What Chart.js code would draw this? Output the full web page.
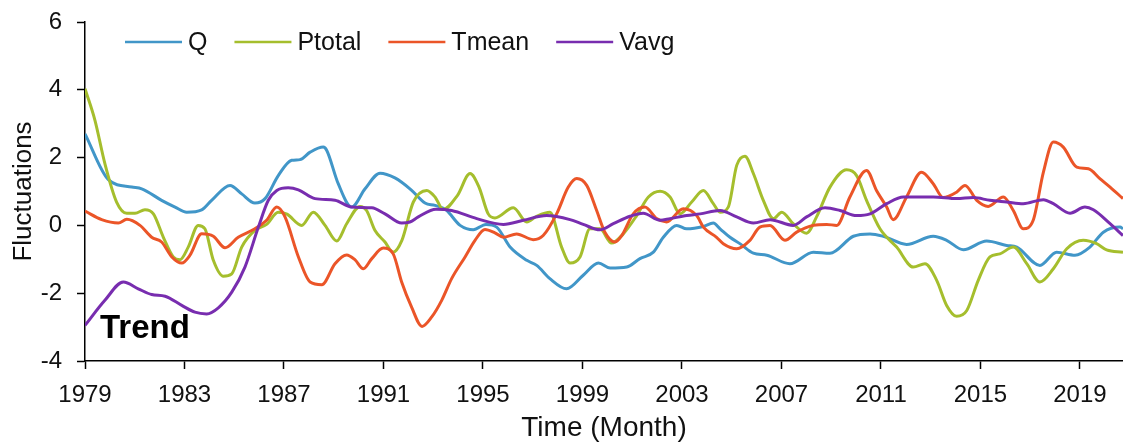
<!DOCTYPE html>
<html>
<head>
<meta charset="utf-8">
<script src="https://cdn.jsdelivr.net/npm/chart.js@4.4.1/dist/chart.umd.min.js"></script>
<style>
html,body{margin:0;padding:0;background:#fff;overflow:hidden}
#wrap{width:1123px;height:447px}
</style>
</head>
<body>
<div id="wrap"><canvas id="c" width="1123" height="447"></canvas></div>
<script>
const yearTicks = [1979,1983,1987,1991,1995,1999,2003,2007,2011,2015,2019];
const seriesNames = ['Q','Ptotal','Tmean','Vavg'];
const seriesColors = ['#4196C8','#A5BE2D','#EB5528','#782DAF'];

const qYears = [1979.00,1979.94,1980.88,1981.28,1982.08,1982.62,1983.09,1983.69,1984.09,1984.83,1985.30,1985.83,1986.24,1986.77,1987.31,1987.64,1988.05,1988.58,1988.72,1989.18,1989.72,1990.26,1990.86,1991.46,1992.11,1992.67,1993.07,1993.51,1994.08,1994.61,1995.12,1995.55,1996.09,1996.76,1997.16,1997.69,1998.36,1999.03,1999.64,2000.11,2000.78,2001.31,2001.85,2002.25,2002.79,2003.19,2003.86,2004.26,2004.53,2004.93,2005.37,2005.87,2006.41,2007.34,2008.28,2008.95,2009.89,2010.56,2011.09,2012.03,2013.10,2013.64,2014.31,2015.25,2016.05,2016.46,2017.39,2018.06,2018.80,2019.40,2019.94,2020.61,2020.73];
const qValues = [2.70,1.35,1.13,1.08,0.74,0.54,0.39,0.46,0.74,1.18,0.93,0.66,0.79,1.47,1.92,1.94,2.16,2.31,2.21,1.23,0.54,1.08,1.54,1.40,1.05,0.66,0.59,0.46,0.00,-0.13,0.03,-0.05,-0.64,-1.03,-1.18,-1.57,-1.87,-1.47,-1.11,-1.26,-1.23,-0.98,-0.79,-0.35,0.00,-0.10,-0.03,0.07,-0.10,-0.35,-0.56,-0.82,-0.88,-1.13,-0.79,-0.82,-0.32,-0.25,-0.32,-0.56,-0.32,-0.44,-0.72,-0.46,-0.59,-0.64,-1.18,-0.79,-0.88,-0.64,-0.20,-0.05,-0.10];

const pYears = [1979.00,1979.40,1979.80,1980.27,1980.68,1981.01,1981.41,1981.75,1982.15,1982.55,1982.82,1983.15,1983.55,1983.82,1984.16,1984.56,1984.90,1985.30,1985.83,1986.30,1986.77,1987.12,1987.71,1988.18,1988.65,1989.12,1989.52,1990.06,1990.32,1990.66,1991.06,1991.38,1991.74,1992.20,1992.74,1993.07,1993.40,1993.97,1994.48,1994.84,1995.21,1995.48,1996.22,1996.76,1997.16,1997.69,1998.16,1998.50,1998.90,1999.30,1999.70,2000.17,2000.64,2001.18,2001.65,2002.12,2002.52,2002.92,2003.39,2003.86,2004.26,2004.53,2004.86,2005.20,2005.53,2005.87,2006.27,2006.67,2007.01,2007.47,2008.01,2008.41,2008.95,2009.62,2010.02,2010.42,2010.96,2011.63,2012.30,2012.77,2013.24,2013.64,2014.04,2014.45,2014.91,2015.38,2015.78,2016.32,2016.86,2017.39,2017.93,2018.47,2019.13,2019.67,2020.07,2020.73];
const pValues = [4.03,3.10,1.82,0.69,0.36,0.36,0.46,0.34,-0.35,-0.93,-1.01,-0.64,0.00,-0.10,-1.03,-1.50,-1.43,-0.64,-0.15,0.03,0.39,0.33,0.00,0.39,0.00,-0.46,0.05,0.56,0.44,-0.15,-0.49,-0.79,-0.44,0.69,1.03,0.84,0.47,0.88,1.53,1.13,0.34,0.22,0.52,0.10,0.27,0.39,-0.64,-1.11,-0.93,-0.10,-0.10,-0.52,-0.25,0.29,0.84,1.01,0.84,0.34,0.69,1.03,0.64,0.39,0.54,1.77,2.04,1.53,0.74,0.20,0.39,0.05,-0.23,0.25,1.13,1.64,1.47,0.74,-0.10,-0.64,-1.23,-1.13,-1.62,-2.36,-2.68,-2.51,-1.62,-0.93,-0.84,-0.64,-1.13,-1.67,-1.28,-0.69,-0.44,-0.54,-0.72,-0.79];

const tYears = [1979.00,1979.67,1980.34,1980.68,1981.21,1981.68,1982.08,1982.49,1982.89,1983.22,1983.69,1984.16,1984.63,1985.16,1985.83,1986.30,1986.71,1987.04,1987.58,1988.05,1988.52,1989.05,1989.52,1989.85,1990.19,1990.53,1990.99,1991.39,1991.73,1992.13,1992.55,1992.94,1993.34,1993.74,1994.28,1994.68,1995.08,1995.48,1995.82,1996.35,1997.02,1997.42,1997.96,1998.43,1998.77,1999.17,1999.57,1999.90,2000.31,2000.58,2001.04,2001.51,2001.98,2002.38,2003.05,2003.59,2003.86,2004.39,2004.66,2005.20,2005.73,2006.13,2006.54,2007.14,2007.61,2008.28,2008.82,2009.22,2009.75,2010.42,2010.82,2011.23,2011.49,2012.03,2012.63,2013.10,2013.50,2014.04,2014.38,2014.85,2015.31,2015.92,2016.32,2016.72,2017.12,2017.53,2017.93,2018.33,2018.87,2019.34,2019.80,2020.21,2020.73];
const tValues = [0.42,0.17,0.07,0.18,0.00,-0.35,-0.49,-0.93,-1.11,-0.88,-0.25,-0.32,-0.66,-0.35,-0.10,0.15,0.54,0.25,-0.93,-1.67,-1.75,-1.13,-0.87,-1.01,-1.28,-0.98,-0.67,-0.84,-1.67,-2.41,-2.98,-2.70,-2.21,-1.57,-0.93,-0.44,-0.12,-0.22,-0.35,-0.25,-0.42,-0.30,0.34,1.13,1.38,1.18,0.44,-0.20,-0.49,-0.30,0.34,0.54,0.20,0.10,0.49,0.29,-0.05,-0.35,-0.54,-0.69,-0.44,-0.05,0.00,-0.44,-0.20,0.00,0.03,0.00,0.84,1.62,1.03,0.54,0.17,0.84,1.57,1.23,0.82,0.98,1.18,0.74,0.56,0.84,0.44,-0.10,0.15,1.57,2.46,2.31,1.72,1.67,1.38,1.13,0.79];

const vYears = [1979.00,1979.80,1980.54,1981.14,1981.68,1982.22,1982.89,1983.42,1983.89,1984.36,1984.90,1985.43,1985.97,1986.37,1986.71,1987.17,1987.58,1988.25,1989.05,1989.72,1990.53,1991.06,1991.73,1992.06,1992.40,1993.11,1993.74,1994.75,1995.82,1996.62,1997.56,1998.50,1999.03,1999.70,2000.24,2000.91,2001.44,2002.12,2002.52,2003.19,2003.73,2004.53,2005.20,2005.87,2006.54,2007.47,2008.01,2008.75,2009.35,2010.02,2010.56,2011.23,2011.90,2013.10,2014.04,2014.71,2015.38,2016.05,2016.72,2017.53,2017.93,2018.60,2019.20,2019.54,2020.21,2020.73];
const vValues = [-2.95,-2.21,-1.67,-1.87,-2.04,-2.09,-2.36,-2.56,-2.61,-2.43,-1.97,-1.23,-0.05,0.74,1.03,1.11,1.05,0.79,0.74,0.54,0.52,0.34,0.07,0.10,0.25,0.48,0.44,0.20,0.03,0.15,0.29,0.17,0.03,-0.13,0.05,0.27,0.36,0.15,0.20,0.29,0.34,0.44,0.25,0.07,0.17,0.00,0.25,0.52,0.44,0.29,0.34,0.64,0.84,0.84,0.79,0.82,0.74,0.69,0.64,0.76,0.64,0.36,0.54,0.46,0.05,-0.30];

const FONT = '"Liberation Sans", Arial, sans-serif';

function pairs(xs, ys) {
  const n = Math.min(xs.length, ys.length);
  const out = [];
  for (let i = 0; i < n; i++) out.push({x: xs[i], y: ys[i]});
  return out;
}
const allYears = [qYears, pYears, tYears, vYears];
const allValues = [qValues, pValues, tValues, vValues];

const datasets = seriesNames.map((name, i) => ({
  label: name,
  data: pairs(allYears[i], allValues[i]),
  borderColor: seriesColors[i],
  backgroundColor: seriesColors[i],
  borderWidth: 3,
  pointRadius: 0,
  cubicInterpolationMode: 'monotone',
  fill: false,
  order: seriesNames.length - i
}));

const overlay = {
  id: 'overlay',
  afterDraw(chart) {
    const ctx = chart.ctx;
    ctx.save();
    ctx.font = '25px ' + FONT;
    ctx.textBaseline = 'middle';
    ctx.textAlign = 'left';
    let x = 125;
    const y = 42;
    chart.data.datasets.forEach(ds => {
      ctx.strokeStyle = ds.borderColor;
      ctx.lineWidth = 2.5;
      ctx.beginPath();
      ctx.moveTo(x, y);
      ctx.lineTo(x + 57, y);
      ctx.stroke();
      ctx.fillStyle = '#111';
      ctx.fillText(ds.label, x + 63, y + 1);
      x += 63 + ctx.measureText(ds.label).width + 27;
    });
    ctx.font = 'bold 33px ' + FONT;
    ctx.textBaseline = 'alphabetic';
    ctx.fillStyle = '#000';
    ctx.fillText('Trend', 100, 338);
    ctx.restore();
  }
};

new Chart(document.getElementById('c'), {
  type: 'line',
  data: { datasets },
  plugins: [overlay],
  options: {
    responsive: false,
    animation: false,
    devicePixelRatio: 1,
    layout: { padding: { top: 22, right: 0, bottom: 0, left: 0 } },
    plugins: { legend: { display: false }, tooltip: { enabled: false } },
    scales: {
      x: {
        type: 'linear',
        min: 1979,
        max: 2020.73,
        afterBuildTicks: s => { s.ticks = yearTicks.map(v => ({ value: v })); },
        afterFit: s => { s.height = 447 - 361; s.paddingLeft = 0; s.paddingRight = 0; },
        ticks: { callback: v => String(v), font: { size: 24, family: FONT }, color: '#111', padding: 12, maxRotation: 0, autoSkip: false },
        grid: { drawOnChartArea: false, drawTicks: true, tickLength: 8, tickColor: '#000', tickWidth: 1.5 },
        border: { display: true, color: '#000', width: 1.5 },
        title: { display: true, text: 'Time (Month)', font: { size: 28, family: FONT }, color: '#111', padding: { top: 0, bottom: 2 } }
      },
      y: {
        min: -4,
        max: 6,
        afterFit: s => { s.width = 85; s.paddingTop = 0; s.paddingBottom = 0; },
        ticks: { stepSize: 2, font: { size: 24, family: FONT }, color: '#111', padding: 15 },
        grid: { drawOnChartArea: false, drawTicks: true, tickLength: 8, tickColor: '#000', tickWidth: 1.5 },
        border: { display: true, color: '#000', width: 1.5 },
        title: { display: true, text: 'Fluctuations', font: { size: 26, family: FONT }, color: '#111', padding: { top: 8, bottom: 0 } }
      }
    }
  }
});
</script>
</body>
</html>
